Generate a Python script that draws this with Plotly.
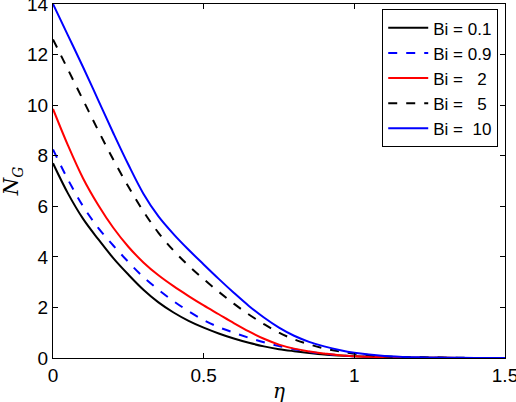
import plotly.graph_objects as go

eta = [0.0, 0.05, 0.1, 0.15, 0.2, 0.25, 0.3, 0.35, 0.4, 0.45, 0.5, 0.55, 0.6, 0.65, 0.7,
       0.75, 0.8, 0.85, 0.9, 0.95, 1.0, 1.1, 1.2, 1.3, 1.4, 1.5]

ng_bi01 = [7.7, 6.5, 5.5, 4.7, 3.95, 3.3, 2.7, 2.2, 1.8, 1.47, 1.2, 0.97, 0.77, 0.6, 0.46,
           0.35, 0.27, 0.2, 0.14, 0.1, 0.07, 0.03, 0.012, 0.005, 0.002, 0.0]
ng_bi09 = [8.25, 7.05, 6.0, 5.15, 4.45, 3.8, 3.2, 2.7, 2.25, 1.85, 1.5, 1.22, 1.0, 0.8, 0.62,
           0.47, 0.35, 0.25, 0.17, 0.11, 0.07, 0.03, 0.012, 0.005, 0.002, 0.0]
ng_bi2 = [9.85, 8.4, 7.1, 6.05, 5.15, 4.4, 3.78, 3.27, 2.84, 2.45, 2.08, 1.73, 1.38, 1.05, 0.76,
          0.53, 0.37, 0.26, 0.18, 0.11, 0.07, 0.03, 0.012, 0.005, 0.002, 0.0]
ng_bi5 = [12.6, 11.4, 10.2, 9.0, 7.85, 6.78, 5.8, 4.95, 4.25, 3.65, 3.12, 2.62, 2.15, 1.72, 1.34,
          1.0, 0.74, 0.54, 0.38, 0.26, 0.17, 0.07, 0.03, 0.012, 0.004, 0.0]
ng_bi10 = [14.0, 12.75, 11.5, 10.2, 8.9, 7.65, 6.5, 5.6, 4.9, 4.28, 3.7, 3.13, 2.58, 2.06, 1.6,
           1.2, 0.88, 0.64, 0.46, 0.32, 0.21, 0.08, 0.03, 0.012, 0.004, 0.0]

labels = ["Bi = 0.1", "Bi = 0.9", "Bi =\u00a0\u00a0 2", "Bi =\u00a0\u00a0 5", "Bi =\u00a0 10"]
series = [ng_bi01, ng_bi09, ng_bi2, ng_bi5, ng_bi10]
colors = ["#000000", "#0000ff", "#ff0000", "#000000", "#0000ff"]
dashes = ["solid", "dash", "solid", "dash", "solid"]

fig = go.Figure()
for lab, ys, c, d in zip(labels, series, colors, dashes):
    fig.add_trace(go.Scatter(x=eta, y=ys, mode="lines", name=lab,
                             line=dict(color=c, width=2, dash=d, shape="spline", smoothing=1.0)))

font_family = "Liberation Sans, Arial, Helvetica, sans-serif"
serif = "DejaVu Serif, Liberation Serif, serif"
fig.update_layout(
    width=516, height=402,
    margin=dict(l=53, r=11, t=4, b=44, autoexpand=False),
    paper_bgcolor="white", plot_bgcolor="white",
    font=dict(family=font_family, size=19, color="#000000"),
    showlegend=True,
    legend=dict(x=0.985, y=0.985, xanchor="right", yanchor="top",
                bordercolor="#000000", borderwidth=1, bgcolor="white",
                font=dict(family=font_family, size=17, color="#000000"), tracegroupgap=0,
                itemwidth=40),
    xaxis=dict(range=[0, 1.5], tickvals=[0, 0.5, 1, 1.5], ticktext=["0", "0.5", "1", "1.5"],
               showline=True, linecolor="#000000", linewidth=1, mirror="ticks",
               ticks="inside", ticklen=5, tickcolor="#000000", showgrid=False, zeroline=False,
               ticklabeloverflow="allow", tickfont=dict(size=19), automargin=False),
    yaxis=dict(range=[0, 14], tickvals=[0, 2, 4, 6, 8, 10, 12, 14],
               showline=True, linecolor="#000000", linewidth=1, mirror="ticks",
               ticks="inside", ticklen=5, tickcolor="#000000", showgrid=False, zeroline=False,
               ticklabeloverflow="allow", tickfont=dict(size=19), automargin=False),
    annotations=[
        dict(text="<i>η</i>", xref="paper", yref="paper", x=0.5, y=-0.092,
             xanchor="center", yanchor="middle", showarrow=False,
             font=dict(family=serif, size=20, color="#000000")),
        dict(text="<i>N</i><sub><i>G</i></sub>", xref="paper", yref="paper", x=-0.09, y=0.5,
             xanchor="center", yanchor="middle", showarrow=False, textangle=-90,
             font=dict(family=serif, size=20, color="#000000")),
    ],
)

fig.write_html("out.html")
